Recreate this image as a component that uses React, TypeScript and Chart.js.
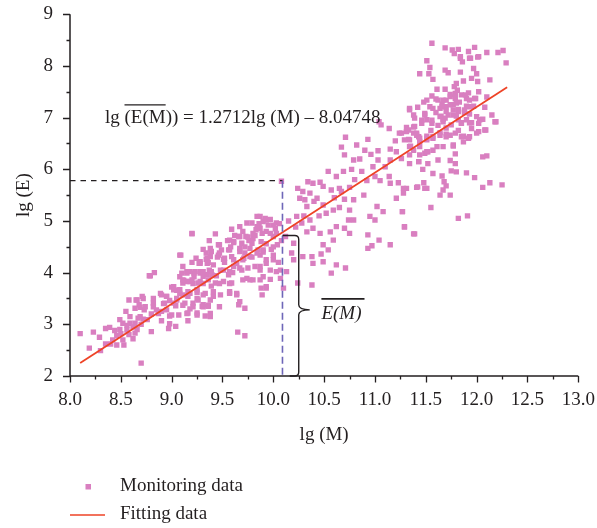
import React, { useEffect, useRef } from 'react';
import { Chart, registerables } from 'chart.js';

Chart.register(...registerables);

const FONT = '"Liberation Serif", "DejaVu Serif", serif';
const INK = '#231f20';
const PINK = '#d97fc0';
const RED = '#ee4326';
const PURPLE = '#6e66b8';

// x = lg(M), y = lg(E) — monitoring data
const lowGroup: [number, number][] = [
  [8.10, 2.82], [8.23, 2.85], [8.29, 2.75], [8.19, 2.54], [8.30, 2.49], [8.35, 2.92], [8.39, 2.94],
  [8.49, 3.09], [8.49, 2.90], [8.46, 2.78], [8.46, 2.60], [8.53, 2.60], [8.56, 2.89], [8.59, 3.02],
  [8.64, 3.02], [8.70, 2.25], [8.79, 3.94], [8.83, 4.00], [8.58, 3.47], [8.65, 3.47], [8.71, 3.54],
  [8.69, 3.33], [8.73, 3.28], [8.67, 3.12], [8.76, 3.09], [8.80, 2.86], [8.90, 3.07], [8.97, 2.92],
  [9.04, 2.96], [8.98, 3.01], [8.82, 3.41], [8.85, 3.28], [8.90, 3.57], [8.95, 3.54], [8.98, 3.46],
  [9.04, 3.36], [9.08, 3.60], [9.02, 3.73], [9.11, 3.80], [9.15, 3.99], [9.22, 3.99], [9.18, 3.83],
  [9.26, 3.80], [9.31, 3.93], [9.35, 3.96], [9.16, 3.54], [9.21, 3.41], [9.26, 3.47], [9.31, 3.38],
  [9.16, 3.22], [9.25, 3.22], [9.33, 3.16], [9.16, 3.07], [8.87, 3.21], [8.98, 3.16], [8.95, 3.28],
  [9.27, 4.18], [9.35, 4.18], [9.34, 4.38], [9.35, 4.28], [8.52, 3.02], [8.59, 3.15], [8.64, 2.83],
  [8.52, 2.70], [9.65, 2.85], [9.72, 2.78], [9.38, 3.15], [9.30, 3.35], [9.36, 3.35], [9.20, 4.75],
  [9.09, 4.34], [8.62, 2.95], [8.55, 3.25], [8.68, 3.38], [8.72, 3.10], [8.80, 3.20], [8.92, 3.40],
  [8.42, 2.70], [8.50, 2.82], [8.58, 2.80], [8.62, 2.72], [8.44, 2.88], [8.56, 2.98], [8.66, 2.90],
  [8.70, 3.00], [8.40, 2.62], [8.35, 2.62],
];

const midGroup: [number, number][] = [
  [10.08, 5.77], [9.20, 4.76], [9.43, 4.75], [9.59, 4.84], [9.37, 4.62], [9.08, 4.34], [9.47, 4.54],
  [9.61, 4.60], [9.67, 4.47], [9.73, 4.70], [9.79, 4.96], [9.84, 5.09], [9.90, 4.99], [9.97, 5.03],
  [10.03, 4.96], [9.83, 4.83], [9.93, 4.80], [10.00, 4.70], [9.80, 4.66], [9.69, 4.57], [9.77, 4.47],
  [9.85, 4.44], [9.93, 4.56], [10.04, 4.54], [9.31, 4.45], [9.39, 4.41], [9.47, 4.38], [9.56, 4.44],
  [9.24, 4.28], [9.28, 4.18], [9.34, 4.26], [9.41, 4.15], [9.51, 4.26], [9.59, 4.31], [9.64, 4.18],
  [9.71, 4.28], [9.79, 4.30], [9.87, 4.34], [9.93, 4.25], [10.00, 4.34], [9.82, 4.12], [9.87, 4.05],
  [9.97, 4.05], [10.07, 4.05], [9.90, 3.92], [9.74, 3.89], [9.80, 3.86], [9.88, 3.70], [9.93, 3.70],
  [9.69, 4.05], [9.61, 4.12], [9.56, 3.96], [9.51, 4.05], [9.44, 3.94], [9.37, 4.05], [9.28, 3.99],
  [9.18, 4.02], [9.11, 4.12], [9.08, 3.92], [9.15, 3.83], [9.21, 3.79], [9.31, 3.79], [9.39, 3.74],
  [9.47, 3.79], [9.57, 3.79], [9.64, 3.60], [9.67, 3.44], [9.57, 3.60], [9.41, 3.54], [9.31, 3.57],
  [9.25, 3.50], [9.18, 3.60], [9.11, 3.57], [9.05, 3.66], [9.02, 3.41], [9.11, 3.37], [9.36, 3.37],
  [9.47, 3.34], [10.07, 3.89], [10.10, 3.70], [9.74, 4.96], [9.67, 4.89], [9.87, 4.86], [10.24, 3.80],
  [10.38, 3.76], [10.13, 4.02], [10.20, 4.25], [9.55, 4.62], [9.62, 4.72], [9.70, 4.80], [9.76, 4.62],
  [9.82, 4.72], [9.88, 4.60], [9.95, 4.92], [10.02, 4.85], [9.98, 4.45], [9.90, 4.40], [9.72, 4.38],
  [9.66, 4.70], [9.58, 4.50], [9.52, 4.20], [9.45, 4.30], [9.36, 4.20], [9.28, 4.02], [9.22, 3.92],
  [9.12, 3.85], [9.00, 3.72], [9.05, 3.50], [9.18, 3.30], [9.25, 3.62], [9.40, 3.95], [9.60, 4.00],
  [10.05, 4.20], [10.08, 4.62], [10.06, 4.95], [9.92, 5.05], [9.86, 4.95],
];

const centralExtra: [number, number][] = [
  [9.46, 4.54], [9.61, 4.58], [9.75, 4.69], [9.84, 4.89], [9.87, 5.09], [9.93, 5.02], [10.00, 4.92],
  [10.03, 4.76], [9.97, 4.76], [9.89, 4.76], [9.80, 4.76], [9.79, 4.57], [9.72, 4.50], [9.67, 4.41],
  [9.57, 4.44], [9.49, 4.44], [9.38, 4.47], [9.38, 4.31], [9.46, 4.34], [9.52, 4.28], [9.61, 4.25],
  [9.70, 4.25], [9.77, 4.31], [9.84, 4.38], [9.90, 4.44], [10.00, 4.50], [10.00, 4.25], [9.93, 4.18],
  [9.87, 4.12], [9.75, 4.09], [9.67, 4.09], [9.57, 4.02], [9.48, 4.05], [9.39, 4.02], [9.31, 4.02],
  [9.23, 4.02], [9.15, 4.02], [9.10, 3.99], [9.20, 4.20], [9.28, 4.21], [8.78, 3.94], [9.11, 3.86],
  [9.20, 3.86], [9.28, 3.83], [9.36, 3.86], [9.43, 3.80], [9.51, 3.83], [9.59, 3.80], [9.70, 3.86],
  [9.77, 3.86], [9.87, 3.86], [9.93, 3.73], [9.89, 3.57], [9.97, 3.87], [10.03, 4.02], [9.02, 3.67],
  [9.08, 3.67], [9.16, 3.63], [9.25, 3.67], [9.33, 3.60], [9.41, 3.63], [9.48, 3.57], [9.57, 3.63],
  [9.64, 3.57], [9.66, 3.38], [9.72, 3.31], [9.38, 3.47], [9.31, 3.34], [9.21, 3.34], [9.13, 3.41],
  [9.05, 3.47], [8.95, 3.54], [8.89, 3.60], [8.93, 3.41], [8.82, 3.50], [8.72, 3.50], [8.66, 3.47],
  [8.64, 3.31], [8.74, 3.34], [8.82, 3.34], [8.90, 3.25], [9.00, 3.18], [9.07, 3.18], [9.15, 3.21],
  [9.25, 3.18], [9.38, 3.21], [8.69, 3.15], [9.57, 4.63], [9.67, 4.70],
];

const upperGroup: [number, number][] = [
  [11.04, 6.92], [11.14, 6.79], [11.06, 6.86], [11.24, 6.70], [11.31, 6.73], [11.39, 6.83], [11.46, 6.89],
  [11.51, 6.96], [11.41, 6.66], [11.34, 6.57], [11.44, 6.54], [11.51, 6.60], [10.71, 6.62], [10.93, 6.58],
  [10.67, 6.43], [10.82, 6.47], [10.90, 6.37], [11.03, 6.36], [11.15, 6.39], [11.21, 6.34], [10.70, 6.28],
  [10.79, 6.18], [10.96, 6.29], [11.03, 6.18], [11.15, 6.18], [11.26, 6.21], [11.34, 6.28], [11.43, 6.15],
  [11.49, 6.31], [10.54, 5.96], [10.62, 5.86], [10.69, 5.96], [10.77, 6.00], [10.87, 5.96], [10.92, 5.78],
  [11.00, 5.86], [11.05, 5.78], [11.14, 5.86], [11.15, 5.73], [11.23, 5.74], [11.31, 5.63], [11.41, 5.65],
  [11.51, 5.63], [10.34, 5.76], [10.39, 5.73], [10.46, 5.75], [10.24, 5.63], [10.29, 5.57], [10.36, 5.54],
  [10.49, 5.67], [10.57, 5.60], [10.65, 5.63], [10.75, 5.65], [10.67, 5.57], [10.89, 5.50], [10.79, 5.41],
  [10.70, 5.42], [10.26, 5.44], [10.31, 5.41], [10.43, 5.44], [10.33, 5.28], [10.49, 5.31], [10.59, 5.21],
  [10.65, 5.26], [10.52, 5.15], [10.75, 5.21], [10.74, 5.02], [10.79, 5.02], [10.95, 5.09], [11.00, 5.02],
  [11.02, 5.28], [11.08, 5.18], [11.27, 5.18], [11.21, 5.44], [11.29, 4.89], [11.38, 4.75], [10.23, 5.09],
  [10.28, 4.96], [10.36, 5.02], [10.39, 4.86], [10.33, 4.79], [10.46, 4.76], [10.56, 4.79], [10.62, 4.89],
  [10.70, 4.86], [10.59, 4.63], [10.49, 4.54], [10.54, 4.44], [10.47, 4.36], [10.38, 4.31], [10.29, 4.31],
  [10.39, 4.18], [10.49, 4.21], [10.62, 4.15], [10.71, 4.09], [10.57, 3.99], [10.75, 4.76], [10.93, 4.47],
  [10.97, 4.52], [11.04, 4.63], [11.15, 4.54], [10.93, 4.73], [10.20, 4.57], [10.18, 4.38], [11.35, 6.45],
  [11.20, 6.55], [11.10, 6.05], [10.98, 6.05], [10.85, 6.20], [10.80, 5.80], [10.60, 5.45], [10.45, 5.10],
  [10.40, 5.38], [10.30, 5.10], [10.22, 4.88], [10.15, 5.00], [10.12, 4.70],
];

const highGroup: [number, number][] = [
  [12.06, 9.15], [11.56, 8.44], [11.69, 8.35], [11.76, 8.31], [11.82, 8.32], [11.78, 8.24], [11.84, 8.15],
  [11.92, 8.28], [11.94, 8.15], [11.98, 8.36], [12.01, 8.17], [12.10, 8.26], [12.21, 8.26], [12.26, 8.30],
  [12.29, 8.06], [11.51, 8.10], [11.54, 7.97], [11.44, 7.85], [11.53, 7.85], [11.57, 7.74], [11.69, 7.92],
  [11.72, 7.87], [11.84, 7.88], [11.97, 7.95], [12.00, 7.85], [11.95, 7.76], [12.01, 7.70], [12.13, 7.73],
  [11.80, 7.66], [11.87, 7.71], [11.61, 7.55], [11.69, 7.55], [11.81, 7.53], [11.51, 7.34], [11.56, 7.42],
  [11.62, 7.34], [11.70, 7.34], [11.79, 7.37], [11.85, 7.44], [11.90, 7.37], [11.93, 7.34], [11.99, 7.37],
  [11.54, 7.21], [11.64, 7.18], [11.70, 7.21], [11.77, 7.25], [11.82, 7.16], [11.90, 7.22], [12.08, 7.20],
  [11.34, 7.18], [11.42, 7.20], [11.38, 7.05], [11.49, 7.08], [11.65, 7.03], [11.72, 7.05], [11.80, 7.03],
  [11.93, 7.07], [12.00, 7.02], [11.56, 6.95], [11.67, 6.97], [11.75, 6.86], [11.85, 6.90], [11.95, 6.90],
  [12.06, 6.97], [12.19, 6.92], [12.09, 6.76], [12.02, 6.73], [11.93, 6.63], [11.87, 6.64], [11.87, 6.53],
  [11.77, 6.45], [11.79, 6.30], [11.70, 6.68], [11.74, 6.66], [11.64, 6.71], [11.57, 6.60], [11.51, 6.64],
  [11.41, 6.70], [11.33, 6.58], [11.38, 6.37], [11.44, 6.28], [11.52, 6.34], [11.61, 6.44], [11.34, 6.11],
  [11.43, 6.15], [11.52, 6.11], [11.62, 6.18], [11.47, 6.00], [11.57, 5.92], [11.66, 5.87], [11.74, 6.17],
  [11.79, 6.11], [11.75, 5.97], [11.80, 5.95], [11.90, 5.93], [11.98, 5.84], [12.06, 6.24], [12.10, 6.26],
  [12.13, 5.74], [12.06, 5.65], [12.25, 5.70], [11.68, 5.76], [11.70, 5.68], [11.67, 5.60], [11.64, 5.50],
  [11.74, 5.50], [11.48, 5.74], [11.42, 5.66], [11.49, 5.63], [11.28, 5.63], [11.28, 5.54], [11.55, 5.26],
  [11.27, 5.18], [11.82, 5.05], [11.91, 5.10], [11.29, 4.88], [11.39, 4.75], [11.31, 6.81], [11.26, 6.70],
  [11.38, 6.82], [11.43, 6.63], [11.60, 7.10], [11.66, 7.26], [11.74, 7.45], [11.78, 7.60], [11.83, 7.30],
  [11.88, 7.10], [11.92, 7.48], [11.97, 7.22], [11.62, 6.85], [11.70, 6.80], [11.82, 6.75], [11.46, 6.95],
  [11.55, 6.75], [11.48, 7.30], [12.02, 7.50], [12.10, 7.40], [12.15, 7.05],
];

const highExtra: [number, number][] = [
  [11.84, 8.18], [11.93, 8.15], [12.02, 8.18], [11.86, 8.08], [11.60, 7.36], [11.67, 7.34], [11.74, 7.41],
  [11.79, 7.47], [11.89, 7.44], [11.98, 7.37], [11.74, 7.25], [11.80, 7.28], [11.66, 7.21], [11.57, 7.18],
  [11.70, 7.12], [11.77, 7.15], [11.82, 7.12], [11.88, 7.15], [11.93, 7.21], [11.64, 7.02], [11.69, 6.99],
  [11.77, 7.05], [11.82, 6.96], [11.90, 6.96], [11.93, 6.90], [12.03, 6.96], [11.34, 7.15], [11.39, 6.99],
  [11.49, 7.05], [11.56, 6.89], [11.67, 6.92], [11.85, 6.89], [11.95, 6.79], [12.02, 6.89], [12.08, 6.76],
  [12.18, 6.92], [11.33, 6.76], [11.38, 6.70], [11.44, 6.60], [11.51, 6.57], [11.57, 6.63], [11.64, 6.66],
  [11.70, 6.63], [11.79, 6.70], [11.85, 6.63], [11.92, 6.60], [12.00, 6.70], [11.29, 6.57], [11.34, 6.44],
  [11.44, 6.44], [11.51, 6.34], [11.57, 6.37], [11.67, 6.44], [11.77, 6.47],
];

// fitted line lg(E) = 1.2712 lg(M) - 8.04748, end points
const fitX = [8.1, 12.3];
const fitY = [2.25, 7.59];

// reference guides
const refX = 10.09; // vertical dashed line
const refY = 5.78; // horizontal dashed line
const braceX = 10.25;
const braceTop = 4.72;
const braceMid = 3.28;

const xMin = 8, xMax = 13, xStep = 0.5;
const yMin = 2, yMax = 9, yStep = 1;

const monitoring = [...lowGroup, ...midGroup, ...centralExtra, ...upperGroup, ...highGroup, ...highExtra].map(
  ([x, y]) => ({ x, y })
);
const fitting = fitX.map((x, i) => ({ x, y: fitY[i] }));

const decorPlugin = {
  id: 'decor',
  afterDatasetsDraw(chart: any) {
    const { ctx, scales } = chart;
    const xs = scales.x;
    const ys = scales.y;
    const px = (v: number) => xs.getPixelForValue(v);
    const py = (v: number) => ys.getPixelForValue(v);
    ctx.save();

    // dashed guides
    ctx.lineWidth = 1.3;
    ctx.strokeStyle = INK;
    ctx.setLineDash([5.5, 5]);
    ctx.beginPath();
    ctx.moveTo(px(xMin), py(refY));
    ctx.lineTo(px(refX), py(refY));
    ctx.stroke();
    ctx.strokeStyle = PURPLE;
    ctx.lineWidth = 1.6;
    ctx.setLineDash([7, 4]);
    ctx.beginPath();
    ctx.moveTo(px(refX), py(refY));
    ctx.lineTo(px(refX), py(yMin));
    ctx.stroke();
    ctx.setLineDash([]);

    // brace
    const bx = px(braceX);
    const bt = py(braceTop);
    const bb = py(yMin);
    const bm = py(braceMid);
    ctx.strokeStyle = INK;
    ctx.lineWidth = 1.4;
    ctx.beginPath();
    ctx.moveTo(px(refX), bt);
    ctx.lineTo(bx - 4, bt);
    ctx.quadraticCurveTo(bx, bt, bx, bt + 4);
    ctx.lineTo(bx, bm - 5);
    ctx.quadraticCurveTo(bx, bm, bx + 11, bm);
    ctx.quadraticCurveTo(bx, bm, bx, bm + 5);
    ctx.lineTo(bx, bb - 4);
    ctx.quadraticCurveTo(bx, bb, bx - 4, bb);
    ctx.lineTo(bx - 9, bb);
    ctx.stroke();

    // E(M) label with overline
    ctx.fillStyle = INK;
    ctx.font = `italic 19px ${FONT}`;
    ctx.textAlign = 'left';
    ctx.textBaseline = 'alphabetic';
    const lx = px(10.473);
    const ly = py(3.106);
    ctx.fillText('E(M)', lx, ly);
    const lw = ctx.measureText('E(M)').width;
    ctx.lineWidth = 1.8;
    ctx.beginPath();
    ctx.moveTo(lx, ly - 20);
    ctx.lineTo(lx + lw + 3, ly - 20);
    ctx.stroke();

    // equation
    ctx.font = `19px ${FONT}`;
    const eqText = 'lg (E(M)) = 1.2712lg (M) \u2013 8.04748';
    const ex = px(8.344);
    const ey = py(6.9);
    ctx.fillText(eqText, ex, ey);
    const o0 = ex + ctx.measureText('lg ').width;
    const o1 = ex + ctx.measureText('lg (E(M').width;
    ctx.lineWidth = 1.2;
    ctx.beginPath();
    ctx.moveTo(o0, ey - 18);
    ctx.lineTo(o1, ey - 18);
    ctx.stroke();

    // axes lines and ticks
    const left = px(xMin), right = px(xMax), top = py(yMax), bottom = py(yMin);
    ctx.strokeStyle = INK;
    ctx.lineWidth = 1.5;
    ctx.beginPath();
    ctx.moveTo(left, top);
    ctx.lineTo(left, bottom);
    ctx.lineTo(right, bottom);
    ctx.stroke();
    ctx.lineWidth = 1.3;
    ctx.beginPath();
    for (let v = yMin; v <= yMax + 1e-9; v += yStep / 2) {
      const major = Math.abs(v - Math.round(v)) < 1e-9;
      const y = Math.round(py(v)) + 0.5;
      ctx.moveTo(left, y);
      ctx.lineTo(left - (major ? 7 : 3.5), y);
    }
    for (let v = xMin; v <= xMax + 1e-9; v += xStep / 2) {
      const major = Math.abs(v * 2 - Math.round(v * 2)) < 1e-9;
      const x = Math.round(px(v)) + 0.5;
      ctx.moveTo(x, bottom);
      ctx.lineTo(x, bottom + (major ? 6.5 : 3.5));
    }
    ctx.stroke();

    // axis titles
    ctx.font = `19px ${FONT}`;
    ctx.textAlign = 'center';
    ctx.textBaseline = 'middle';
    ctx.fillText('lg (M)', (left + right) / 2, 435);
    ctx.save();
    ctx.translate(24, (top + bottom) / 2);
    ctx.rotate(-Math.PI / 2);
    ctx.fillText('lg (E)', 0, 0);
    ctx.restore();

    // legend
    ctx.textAlign = 'left';
    ctx.fillStyle = PINK;
    ctx.fillRect(85.5, 484, 5.5, 5.5);
    ctx.fillStyle = INK;
    ctx.fillText('Monitoring data', 120, 486);
    ctx.strokeStyle = RED;
    ctx.lineWidth = 1.3;
    ctx.beginPath();
    ctx.moveTo(70, 515);
    ctx.lineTo(105, 515);
    ctx.stroke();
    ctx.fillText('Fitting data', 120, 514);

    ctx.restore();
  },
};

export default function App() {
  const ref = useRef<HTMLCanvasElement>(null);
  useEffect(() => {
    const chart = new Chart(ref.current as HTMLCanvasElement, {
      type: 'scatter',
      data: {
        datasets: [
          {
            type: 'line',
            label: 'Fitting data',
            data: fitting,
            borderColor: RED,
            borderWidth: 1.8,
            pointRadius: 0,
            order: 0,
          } as any,
          {
            label: 'Monitoring data',
            data: monitoring,
            pointStyle: 'rect',
            pointRadius: 3.8,
            pointBorderWidth: 0,
            borderWidth: 0,
            backgroundColor: PINK,
            pointBackgroundColor: PINK,
            order: 1,
          } as any,
        ],
      },
      options: {
        responsive: false,
        animation: false,
        devicePixelRatio: 1,
        events: [],
        layout: { padding: { left: 0, top: 14.3, right: 18.7, bottom: 92 } },
        plugins: { legend: { display: false }, tooltip: { enabled: false } },
        scales: {
          x: {
            type: 'linear',
            min: xMin,
            max: xMax,
            grid: { display: false, drawTicks: true, tickLength: 13 },
            border: { display: false },
            ticks: {
              stepSize: xStep,
              autoSkip: false,
              maxRotation: 0,
              padding: 0,
              color: INK,
              font: { family: FONT, size: 19, lineHeight: 1.2 },
              callback: (v: any) => Number(v).toFixed(1),
            },
            afterFit: (s: any) => { s.height = 60; },
          },
          y: {
            type: 'linear',
            min: yMin,
            max: yMax,
            grid: { display: false, drawTicks: true, tickLength: 17 },
            border: { display: false },
            ticks: {
              stepSize: yStep,
              padding: 0,
              color: INK,
              font: { family: FONT, size: 19, lineHeight: 1.2 },
            },
            afterFit: (s: any) => { s.width = 70; },
          },
        },
      },
      plugins: [decorPlugin],
    });
    return () => chart.destroy();
  }, []);
  return (
    <div style={{ position: 'absolute', left: 0, top: 0, width: 597, height: 528, background: '#fff' }}>
      <canvas ref={ref} width={597} height={528} style={{ display: 'block', width: 597, height: 528 }} />
    </div>
  );
}
